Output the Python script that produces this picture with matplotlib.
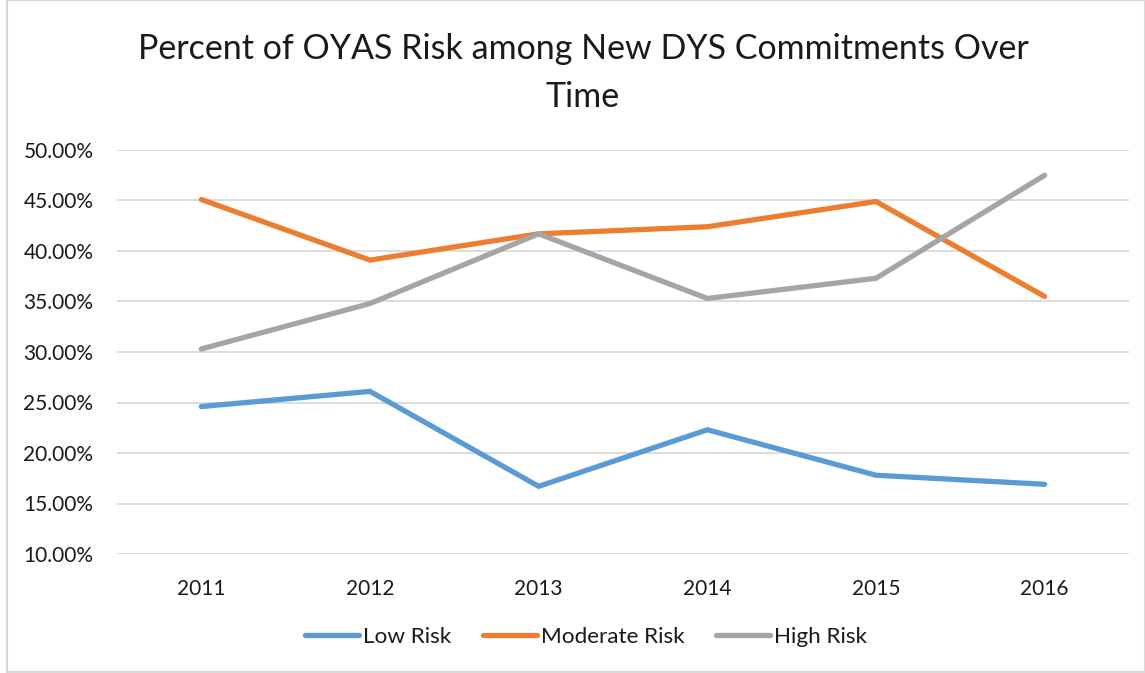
import matplotlib
matplotlib.use("Agg")
from matplotlib import pyplot as plt
from matplotlib.patches import Rectangle
from matplotlib.ticker import FuncFormatter

plt.rcParams['font.family'] = ['Lato', 'DejaVu Sans']

years = ["2011", "2012", "2013", "2014", "2015", "2016"]
low_risk = [24.6, 26.1, 16.7, 22.3, 17.8, 16.9]
moderate_risk = [45.1, 39.1, 41.7, 42.4, 44.9, 35.5]
high_risk = [30.3, 34.8, 41.7, 35.3, 37.3, 47.5]

series = [
    ("Low Risk", low_risk, "#5B9BD5"),
    ("Moderate Risk", moderate_risk, "#ED7D31"),
    ("High Risk", high_risk, "#A5A5A5"),
]

W, H = 1145, 673
fig = plt.figure(figsize=(W / 100, H / 100), dpi=100)
ax = fig.add_axes([117 / W, 1 - 554 / H, (1129 - 117) / W, (554 - 150) / H])

x = range(len(years))
for name, vals, col in series:
    ax.plot(x, vals, color=col, linewidth=3.8, solid_capstyle='round',
            solid_joinstyle='miter', label=name)

ax.set_xlim(-0.5, len(years) - 0.5)
ax.set_ylim(10, 50)
ax.set_yticks([10, 15, 20, 25, 30, 35, 40, 45, 50])
ax.yaxis.set_major_formatter(FuncFormatter(lambda v, p: f"{v:.2f}%"))
ax.set_xticks(list(x))
ax.set_xticklabels(years)
ax.grid(axis='y', color='#D9D9D9', linewidth=1.3)
ax.set_axisbelow(True)
for s in ax.spines.values():
    s.set_visible(False)
ax.tick_params(length=0, labelsize=15, colors='#1a1a1a')
ax.tick_params(axis='y', pad=17)
ax.tick_params(axis='x', pad=18)

fig.text(583 / W, 1 - 73 / H,
         "Percent of OYAS Risk among New DYS Commitments Over\nTime",
         ha='center', va='center', fontsize=24.5, color='#1a1a1a', linespacing=1.6)

fig.legend(loc='center', bbox_to_anchor=(586 / W, 1 - 637 / H), ncol=3,
           frameon=False, fontsize=16.2, handlelength=2.4, handletextpad=0.18,
           columnspacing=1.38, labelcolor='#1a1a1a')

fig.patches.append(Rectangle((7 / W, 1 / H), 1 - 7 / W, 1 - 1 / H,
                             transform=fig.transFigure, fill=False,
                             edgecolor='#D9D9D9', linewidth=1.5))

plt.savefig("out.png", dpi=100)
plt.close()
